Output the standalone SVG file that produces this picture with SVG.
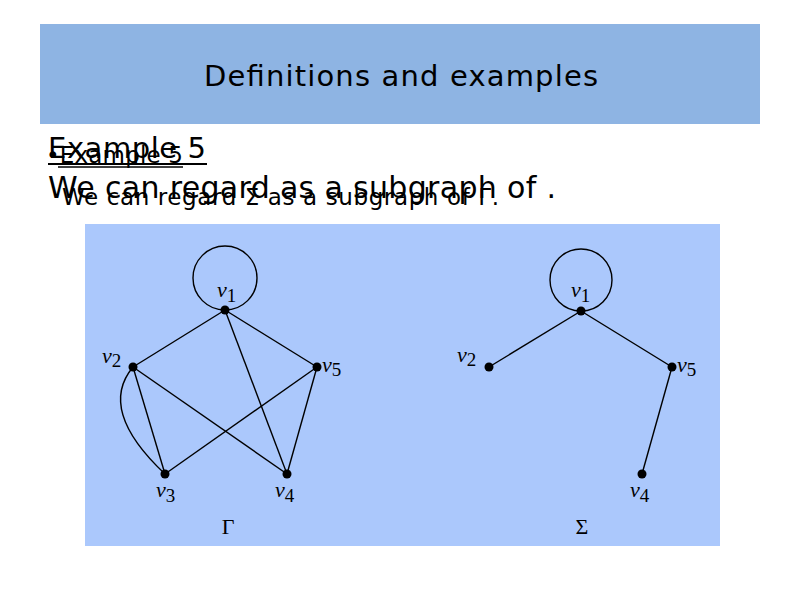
<svg xmlns="http://www.w3.org/2000/svg" width="800" height="600" viewBox="0 0 800 600">
<style>
.sans{font-family:"DejaVu Sans","Liberation Sans",sans-serif;fill:#000}
.edge{stroke:#000;stroke-width:1.4;fill:none}
.dot{fill:#000}
.lbl{font-family:"Liberation Serif","Times New Roman",serif;font-size:22px;fill:#000}
.lbl .v{font-style:italic}
.lbl .s{font-size:19px}
.gname{font-family:"Liberation Serif","Times New Roman",serif;font-size:22px;fill:#000}
</style>
<rect width="800" height="600" fill="#fff"/>
<rect x="40" y="24" width="720" height="100" fill="#8eb4e3"/>
<text class="sans" x="401" y="86" font-size="29" text-anchor="middle" textLength="394">Definitions and examples</text>

<g id="text-big">
<text class="sans" x="48" y="158" font-size="29" textLength="158">Example 5</text>
<line x1="48" y1="164" x2="207" y2="164" stroke="#000" stroke-width="2"/>
<text class="sans" x="48" y="198" font-size="30" textLength="508">We can regard as a subgraph of .</text>
</g>
<g id="text-small">
<text class="sans" x="46" y="163" font-size="23" textLength="137">•Example 5</text>
<line x1="58" y1="167" x2="183" y2="167" stroke="#000" stroke-width="1.5"/>
<text class="sans" x="62" y="205" font-size="23" textLength="437">We can regard Σ as a subgraph of Γ.</text>
</g>

<rect x="85" y="224" width="635" height="322" fill="#abc8fc"/>

<g id="connectors">
<circle class="edge" cx="225" cy="278" r="32"/>
<line class="edge" x1="225" y1="310" x2="133" y2="367"/>
<line class="edge" x1="225" y1="310" x2="317" y2="367"/>
<line class="edge" x1="225" y1="310" x2="287" y2="474"/>
<line class="edge" x1="133" y1="367" x2="165" y2="474"/>
<line class="edge" x1="133" y1="367" x2="287" y2="474"/>
<path class="edge" d="M133 367 Q97 410 165 474"/>
<line class="edge" x1="317" y1="367" x2="165" y2="474"/>
<line class="edge" x1="317" y1="367" x2="287" y2="474"/>

<circle class="edge" cx="581" cy="280" r="31"/>
<line class="edge" x1="581" y1="311" x2="489" y2="367"/>
<line class="edge" x1="581" y1="311" x2="672" y2="367"/>
<line class="edge" x1="672" y1="367" x2="642" y2="474"/>
</g>

<g id="gamma-v1"><circle class="dot" cx="225" cy="310" r="4.5"/><text class="lbl" x="217" y="297"><tspan class="v">v</tspan><tspan class="s" dy="5">1</tspan></text></g>
<g id="gamma-v2"><circle class="dot" cx="133" cy="367" r="4.5"/><text class="lbl" x="102" y="363"><tspan class="v">v</tspan><tspan class="s" dy="4">2</tspan></text></g>
<g id="gamma-v5"><circle class="dot" cx="317" cy="367" r="4.5"/><text class="lbl" x="322" y="372"><tspan class="v">v</tspan><tspan class="s" dy="4">5</tspan></text></g>
<g id="gamma-v3"><circle class="dot" cx="165" cy="474" r="4.5"/><text class="lbl" x="156" y="497"><tspan class="v">v</tspan><tspan class="s" dy="5">3</tspan></text></g>
<g id="gamma-v4"><circle class="dot" cx="287" cy="474" r="4.5"/><text class="lbl" x="275" y="497"><tspan class="v">v</tspan><tspan class="s" dy="5">4</tspan></text></g>
<text class="gname" x="228" y="534" text-anchor="middle">Γ</text>

<g id="sigma-v1"><circle class="dot" cx="581" cy="311" r="4.5"/><text class="lbl" x="571" y="297"><tspan class="v">v</tspan><tspan class="s" dy="5">1</tspan></text></g>
<g id="sigma-v2"><circle class="dot" cx="489" cy="367" r="4.5"/><text class="lbl" x="457" y="362"><tspan class="v">v</tspan><tspan class="s" dy="4">2</tspan></text></g>
<g id="sigma-v5"><circle class="dot" cx="672" cy="367" r="4.5"/><text class="lbl" x="677" y="372"><tspan class="v">v</tspan><tspan class="s" dy="4">5</tspan></text></g>
<g id="sigma-v4"><circle class="dot" cx="642" cy="474" r="4.5"/><text class="lbl" x="630" y="497"><tspan class="v">v</tspan><tspan class="s" dy="5">4</tspan></text></g>
<text class="gname" x="582" y="534" text-anchor="middle">Σ</text>
</svg>
